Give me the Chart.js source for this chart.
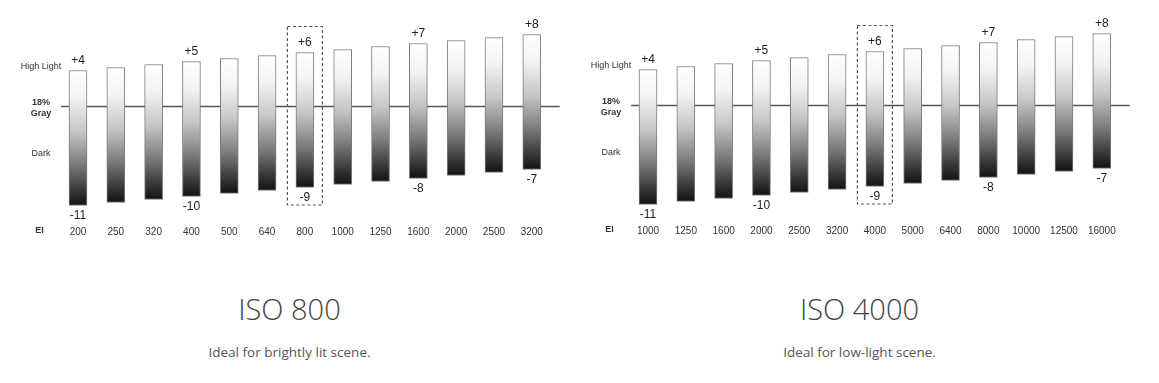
<!DOCTYPE html>
<html>
<head>
<meta charset="utf-8">
<script src="https://cdn.jsdelivr.net/npm/chart.js@4.4.1/dist/chart.umd.min.js"></script>
<style>
  html, body { margin: 0; padding: 0; background: #fff; }
  body { width: 1159px; height: 383px; position: relative; overflow: hidden; }
  canvas { position: absolute; }
  .title { position: absolute; width: 400px; text-align: center; font-family: "Open Sans", sans-serif; font-weight: 300; font-size: 29px; line-height: 29px; color: #444; white-space: nowrap; }
  .sub { position: absolute; width: 400px; text-align: center; font-family: "Open Sans", sans-serif; font-size: 13.5px; line-height: 13.5px; color: #555; white-space: nowrap; }
</style>
</head>
<body>
<canvas id="c1" width="580" height="250" style="left:0px;top:0px"></canvas>
<canvas id="c2" width="580" height="250" style="left:570px;top:-1px"></canvas>
<div class="title" style="left:89.5px;top:294px">ISO 800</div>
<div class="sub" style="left:89.5px;top:345.5px">Ideal for brightly lit scene.</div>
<div class="title" style="left:659.5px;top:294px">ISO 4000</div>
<div class="sub" style="left:659.5px;top:345.5px">Ideal for low-light scene.</div>
<script>
// ---- data ----
const eiIso800 = ['200','250','320','400','500','640','800','1000','1250','1600','2000','2500','3200'];
const eiIso4000 = ['1000','1250','1600','2000','2500','3200','4000','5000','6400','8000','10000','12500','16000'];
const highStops = [4, 4.33, 4.67, 5, 5.33, 5.67, 6, 6.33, 6.67, 7, 7.33, 7.67, 8];
const lowStops = [-11, -10.67, -10.33, -10, -9.67, -9.33, -9, -8.67, -8.33, -8, -7.67, -7.33, -7];
const highLabels = ['+4','','','+5','','','+6','','','+7','','','+8'];
const lowLabels = ['-11','','','-10','','','-9','','','-8','','','-7'];
const sideLabels = ['High Light', '18%', 'Gray', 'Dark', 'EI'];
const highlightIndex = 6;

function barGradient(ctx) {
  const chart = ctx.chart;
  const y = chart.scales && chart.scales.y;
  if (ctx.type !== 'data' || !y) return '#999';
  const raw = ctx.raw;
  const top = y.getPixelForValue(Math.max(raw[0], raw[1]));
  const bot = y.getPixelForValue(Math.min(raw[0], raw[1]));
  if (!isFinite(top) || !isFinite(bot)) return '#999';
  const g = chart.ctx.createLinearGradient(0, top, 0, bot);
  g.addColorStop(0, '#ffffff');
  g.addColorStop(0.2, '#f3f3f3');
  g.addColorStop(0.45, '#c6c6c6');
  g.addColorStop(0.7, '#7a7a7a');
  g.addColorStop(0.9, '#333333');
  g.addColorStop(1, '#121212');
  return g;
}

const decorPlugin = {
  id: 'decor',
  beforeDatasetsDraw(chart) {
    const c = chart.ctx, a = chart.chartArea, y0 = chart.scales.y.getPixelForValue(0);
    c.save();
    c.strokeStyle = '#555';
    c.lineWidth = 1.5;
    c.beginPath();
    c.moveTo(a.left + 2, y0);
    c.lineTo(a.right + 9, y0);
    c.stroke();
    c.restore();
  },
  afterDatasetsDraw(chart) {
    const c = chart.ctx, a = chart.chartArea, y0 = chart.scales.y.getPixelForValue(0);
    const meta = chart.getDatasetMeta(0);
    c.save();
    c.fillStyle = '#222';
    c.font = '12px "Liberation Sans", Arial, sans-serif';
    c.textAlign = 'center';
    c.textBaseline = 'middle';
    meta.data.forEach((el, i) => {
      const top = Math.min(el.y, el.base), bot = Math.max(el.y, el.base);
      if (highLabels[i]) c.fillText(highLabels[i], el.x, top - 9.5);
      if (lowLabels[i]) c.fillText(lowLabels[i], el.x, bot + 10);
    });
    // highlight box
    const h = meta.data[highlightIndex];
    const hTop = Math.min(h.y, h.base), hBot = Math.max(h.y, h.base);
    c.strokeStyle = '#555';
    c.lineWidth = 1.2;
    c.setLineDash([3, 2.5]);
    c.strokeRect(h.x - 17.5, hTop - 26, 35, hBot - hTop + 43.5);
    c.setLineDash([]);
    // side labels
    const lx = 41;
    c.fillStyle = '#333';
    c.font = '9px "Liberation Sans", Arial, sans-serif';
    c.fillText(sideLabels[0], lx, y0 - 39.5);
    c.fillText(sideLabels[3], lx, y0 + 47.5);
    c.font = 'bold 9px "Liberation Sans", Arial, sans-serif';
    c.fillText(sideLabels[1], lx, y0 - 4);
    c.fillText(sideLabels[2], lx, y0 + 7);
    c.fillText(sideLabels[4], 39.5, a.bottom + 7.5);
    c.restore();
  }
};

function makeChart(id, labels) {
  return new Chart(document.getElementById(id), {
    type: 'bar',
    data: {
      labels: labels,
      datasets: [{
        data: labels.map((_, i) => [lowStops[i], highStops[i]]),
        backgroundColor: barGradient,
        borderColor: '#7a7a7a',
        borderWidth: 1,
        borderSkipped: false,
        barThickness: 18
      }]
    },
    options: {
      responsive: false,
      devicePixelRatio: 1,
      animation: false,
      layout: { padding: { left: 59.1, right: 29.3, top: 16.5, bottom: 6.5 } },
      plugins: { legend: { display: false }, tooltip: { enabled: false } },
      scales: {
        y: { display: false, min: -13, max: 10 },
        x: {
          afterFit: (s) => { s.height = 20; },
          grid: { display: false, drawTicks: false },
          border: { display: false },
          ticks: { color: '#333', padding: 3, font: { family: '"Liberation Sans", Arial, sans-serif', size: 10 }, maxRotation: 0, autoSkip: false }
        }
      }
    },
    plugins: [decorPlugin]
  });
}

makeChart('c1', eiIso800);
makeChart('c2', eiIso4000);
</script>
</body>
</html>
